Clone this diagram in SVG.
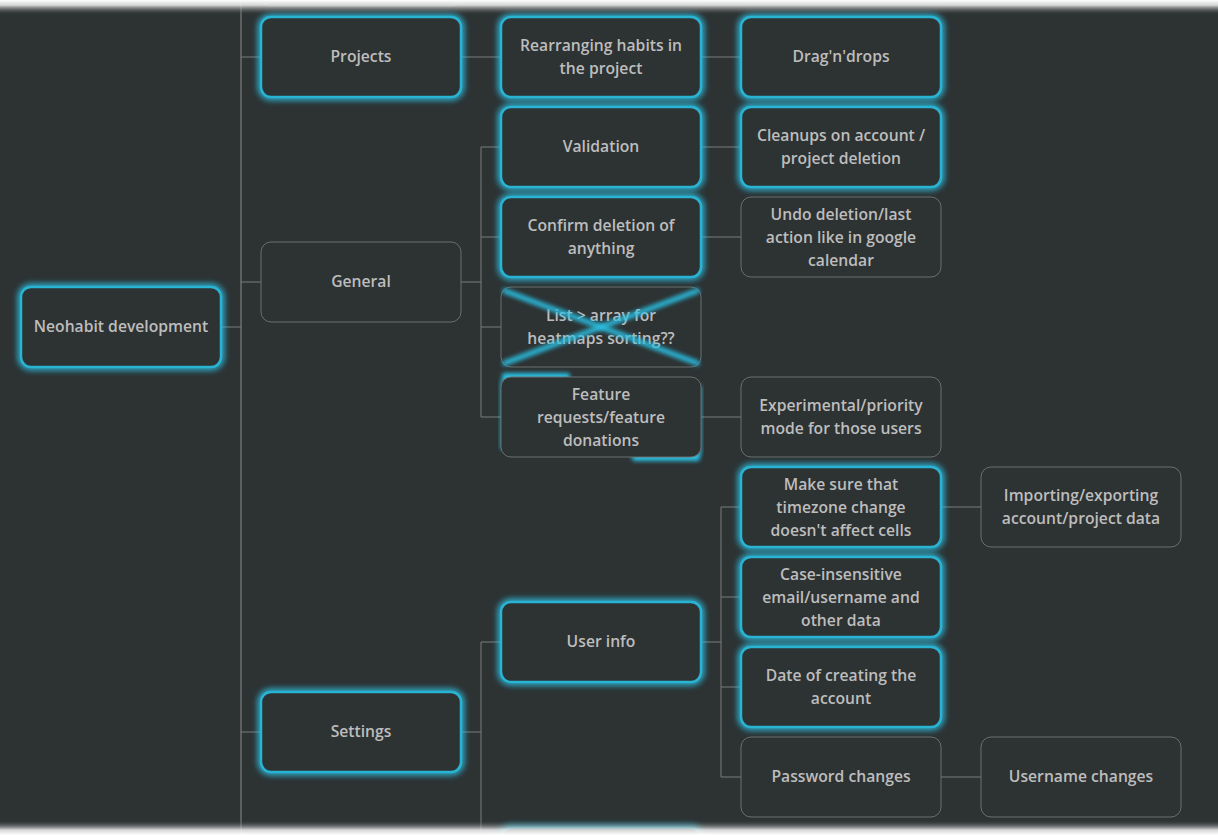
<svg xmlns="http://www.w3.org/2000/svg" width="1218" height="835" viewBox="0 0 1218 835">
<defs>
<filter id="glow" x="-20%" y="-30%" width="140%" height="160%">
<feGaussianBlur stdDeviation="3"/>
</filter>
<filter id="soft" x="-20%" y="-50%" width="140%" height="200%">
<feGaussianBlur stdDeviation="2"/>
</filter>
<linearGradient id="fadeTop" x1="0" y1="0" x2="0" y2="1">
<stop offset="0" stop-color="#ffffff" stop-opacity="1"/>
<stop offset="0.35" stop-color="#e6e6e6" stop-opacity="0.9"/>
<stop offset="1" stop-color="#2d3233" stop-opacity="0"/>
</linearGradient>
<linearGradient id="fadeBot" x1="0" y1="1" x2="0" y2="0">
<stop offset="0" stop-color="#ffffff" stop-opacity="1"/>
<stop offset="0.35" stop-color="#e6e6e6" stop-opacity="0.9"/>
<stop offset="1" stop-color="#2d3233" stop-opacity="0"/>
</linearGradient>
</defs>
<style>
.bg{fill:#2d3233}
.edge{stroke:#7a7d7e;stroke-width:1;fill:none}
.trunk{stroke:#8a8d8e;stroke-width:1;fill:none}
.box{fill:#2d3233;stroke:#6b6e6f;stroke-width:1}
.hl{fill:#2d3233;stroke:#2ab4d3;stroke-width:2.5}
.halo{fill:none;stroke:#29c3e6;stroke-width:6;filter:url(#glow)}
.t{font-family:"Open Sans","Liberation Sans",sans-serif;font-size:15.7px;font-weight:600;fill:#bdbdbd;text-anchor:middle}
.x{stroke:#29c3e6;stroke-width:5.5;stroke-linecap:round;filter:url(#soft);opacity:0.95}
</style>
<rect class="bg" x="0" y="0" width="1218" height="835"/>

<g id="connectors">
<line class="trunk" x1="241" y1="0" x2="241" y2="835"/>
<line class="edge" x1="221" y1="327" x2="241" y2="327"/>
<line class="edge" x1="241" y1="57" x2="261" y2="57"/>
<line class="edge" x1="241" y1="282" x2="261" y2="282"/>
<line class="edge" x1="241" y1="732" x2="261" y2="732"/>
<line class="edge" x1="461" y1="57" x2="501" y2="57"/>
<line class="edge" x1="701" y1="57" x2="741" y2="57"/>
<line class="edge" x1="461" y1="282" x2="481" y2="282"/>
<line class="edge" x1="481" y1="147" x2="481" y2="417"/>
<line class="edge" x1="481" y1="147" x2="501" y2="147"/>
<line class="edge" x1="481" y1="237" x2="501" y2="237"/>
<line class="edge" x1="481" y1="327" x2="501" y2="327"/>
<line class="edge" x1="481" y1="417" x2="501" y2="417"/>
<line class="edge" x1="701" y1="147" x2="741" y2="147"/>
<line class="edge" x1="701" y1="237" x2="741" y2="237"/>
<line class="edge" x1="701" y1="417" x2="741" y2="417"/>
<line class="edge" x1="461" y1="732" x2="481" y2="732"/>
<line class="edge" x1="481" y1="642" x2="481" y2="835"/>
<line class="edge" x1="481" y1="642" x2="501" y2="642"/>
<line class="edge" x1="701" y1="642" x2="721" y2="642"/>
<line class="edge" x1="721" y1="507" x2="721" y2="777"/>
<line class="edge" x1="721" y1="507" x2="741" y2="507"/>
<line class="edge" x1="721" y1="597" x2="741" y2="597"/>
<line class="edge" x1="721" y1="687" x2="741" y2="687"/>
<line class="edge" x1="721" y1="777" x2="741" y2="777"/>
<line class="edge" x1="941" y1="507" x2="981" y2="507"/>
<line class="edge" x1="941" y1="777" x2="981" y2="777"/>
</g>

<g id="node-top-partial">
<rect class="box" x="261" y="-74" width="200" height="80" rx="10" stroke="#bbbbbb"/>
</g>

<g id="node-root">
<rect class="halo" x="21" y="287" width="200" height="80" rx="10"/>
<rect class="hl" x="21" y="287" width="200" height="80" rx="10"/>
<text class="t" x="121" y="332">Neohabit development</text>
</g>

<g id="node-projects">
<rect class="halo" x="261" y="17" width="200" height="80" rx="10"/>
<rect class="hl" x="261" y="17" width="200" height="80" rx="10"/>
<text class="t" x="361" y="62">Projects</text>
</g>

<g id="node-general">
<rect class="box" x="261" y="242" width="200" height="80" rx="10"/>
<text class="t" x="361" y="287">General</text>
</g>

<g id="node-settings">
<rect class="halo" x="261" y="692" width="200" height="80" rx="10"/>
<rect class="hl" x="261" y="692" width="200" height="80" rx="10"/>
<text class="t" x="361" y="737">Settings</text>
</g>

<g id="node-rearranging">
<rect class="halo" x="501" y="17" width="200" height="80" rx="10"/>
<rect class="hl" x="501" y="17" width="200" height="80" rx="10"/>
<text class="t" x="601" y="51">Rearranging habits in</text>
<text class="t" x="601" y="74">the project</text>
</g>

<g id="node-dragndrops">
<rect class="halo" x="741" y="17" width="200" height="80" rx="10"/>
<rect class="hl" x="741" y="17" width="200" height="80" rx="10"/>
<text class="t" x="841" y="62">Drag'n'drops</text>
</g>

<g id="node-validation">
<rect class="halo" x="501" y="107" width="200" height="80" rx="10"/>
<rect class="hl" x="501" y="107" width="200" height="80" rx="10"/>
<text class="t" x="601" y="152">Validation</text>
</g>

<g id="node-cleanups">
<rect class="halo" x="741" y="107" width="200" height="80" rx="10"/>
<rect class="hl" x="741" y="107" width="200" height="80" rx="10"/>
<text class="t" x="841" y="141">Cleanups on account /</text>
<text class="t" x="841" y="164">project deletion</text>
</g>

<g id="node-confirm">
<rect class="halo" x="501" y="197" width="200" height="80" rx="10"/>
<rect class="hl" x="501" y="197" width="200" height="80" rx="10"/>
<text class="t" x="601" y="231">Confirm deletion of</text>
<text class="t" x="601" y="254">anything</text>
</g>

<g id="node-undo">
<rect class="box" x="741" y="197" width="200" height="80" rx="10"/>
<text class="t" x="841" y="220">Undo deletion/last</text>
<text class="t" x="841" y="243">action like in google</text>
<text class="t" x="841" y="266">calendar</text>
</g>

<g id="node-list">
<rect class="box" x="501" y="287" width="200" height="80" rx="10"/>
<text class="t" x="601" y="321">List &gt; array for</text>
<text class="t" x="601" y="344">heatmaps sorting??</text>
<line class="x" x1="505" y1="291" x2="697" y2="363"/>
<line class="x" x1="505" y1="363" x2="697" y2="291"/>
</g>

<g id="node-feature">
<rect x="502" y="373" width="68" height="9" rx="3" fill="#29c3e6" filter="url(#soft)"/>
<rect x="632" y="452" width="68" height="9" rx="3" fill="#29c3e6" filter="url(#soft)"/>
<rect x="694" y="385" width="8" height="70" rx="3" fill="#29c3e6" opacity="0.7" filter="url(#soft)"/>
<rect x="500" y="380" width="7" height="70" rx="3" fill="#29c3e6" opacity="0.7" filter="url(#soft)"/>
<rect class="box" x="501" y="377" width="200" height="80" rx="10"/>
<text class="t" x="601" y="400">Feature</text>
<text class="t" x="601" y="423">requests/feature</text>
<text class="t" x="601" y="446">donations</text>
</g>

<g id="node-experimental">
<rect class="box" x="741" y="377" width="200" height="80" rx="10"/>
<text class="t" x="841" y="411">Experimental/priority</text>
<text class="t" x="841" y="434">mode for those users</text>
</g>

<g id="node-timezone">
<rect class="halo" x="741" y="467" width="200" height="80" rx="10"/>
<rect class="hl" x="741" y="467" width="200" height="80" rx="10"/>
<text class="t" x="841" y="490">Make sure that</text>
<text class="t" x="841" y="513">timezone change</text>
<text class="t" x="841" y="536">doesn't affect cells</text>
</g>

<g id="node-importing">
<rect class="box" x="981" y="467" width="200" height="80" rx="10"/>
<text class="t" x="1081" y="501">Importing/exporting</text>
<text class="t" x="1081" y="524">account/project data</text>
</g>

<g id="node-userinfo">
<rect class="halo" x="501" y="602" width="200" height="80" rx="10"/>
<rect class="hl" x="501" y="602" width="200" height="80" rx="10"/>
<text class="t" x="601" y="647">User info</text>
</g>

<g id="node-case">
<rect class="halo" x="741" y="557" width="200" height="80" rx="10"/>
<rect class="hl" x="741" y="557" width="200" height="80" rx="10"/>
<text class="t" x="841" y="580">Case-insensitive</text>
<text class="t" x="841" y="603">email/username and</text>
<text class="t" x="841" y="626">other data</text>
</g>

<g id="node-date">
<rect class="halo" x="741" y="647" width="200" height="80" rx="10"/>
<rect class="hl" x="741" y="647" width="200" height="80" rx="10"/>
<text class="t" x="841" y="681">Date of creating the</text>
<text class="t" x="841" y="704">account</text>
</g>

<g id="node-password">
<rect class="box" x="741" y="737" width="200" height="80" rx="10"/>
<text class="t" x="841" y="782">Password changes</text>
</g>

<g id="node-username">
<rect class="box" x="981" y="737" width="200" height="80" rx="10"/>
<text class="t" x="1081" y="782">Username changes</text>
</g>

<g id="node-bottom-partial">
<rect class="halo" x="501" y="828" width="200" height="80" rx="10"/>
<rect class="hl" x="501" y="828" width="200" height="80" rx="10"/>
</g>

<rect x="0" y="0" width="1218" height="15" fill="url(#fadeTop)"/>
<rect x="0" y="820" width="1218" height="15" fill="url(#fadeBot)"/>
</svg>
